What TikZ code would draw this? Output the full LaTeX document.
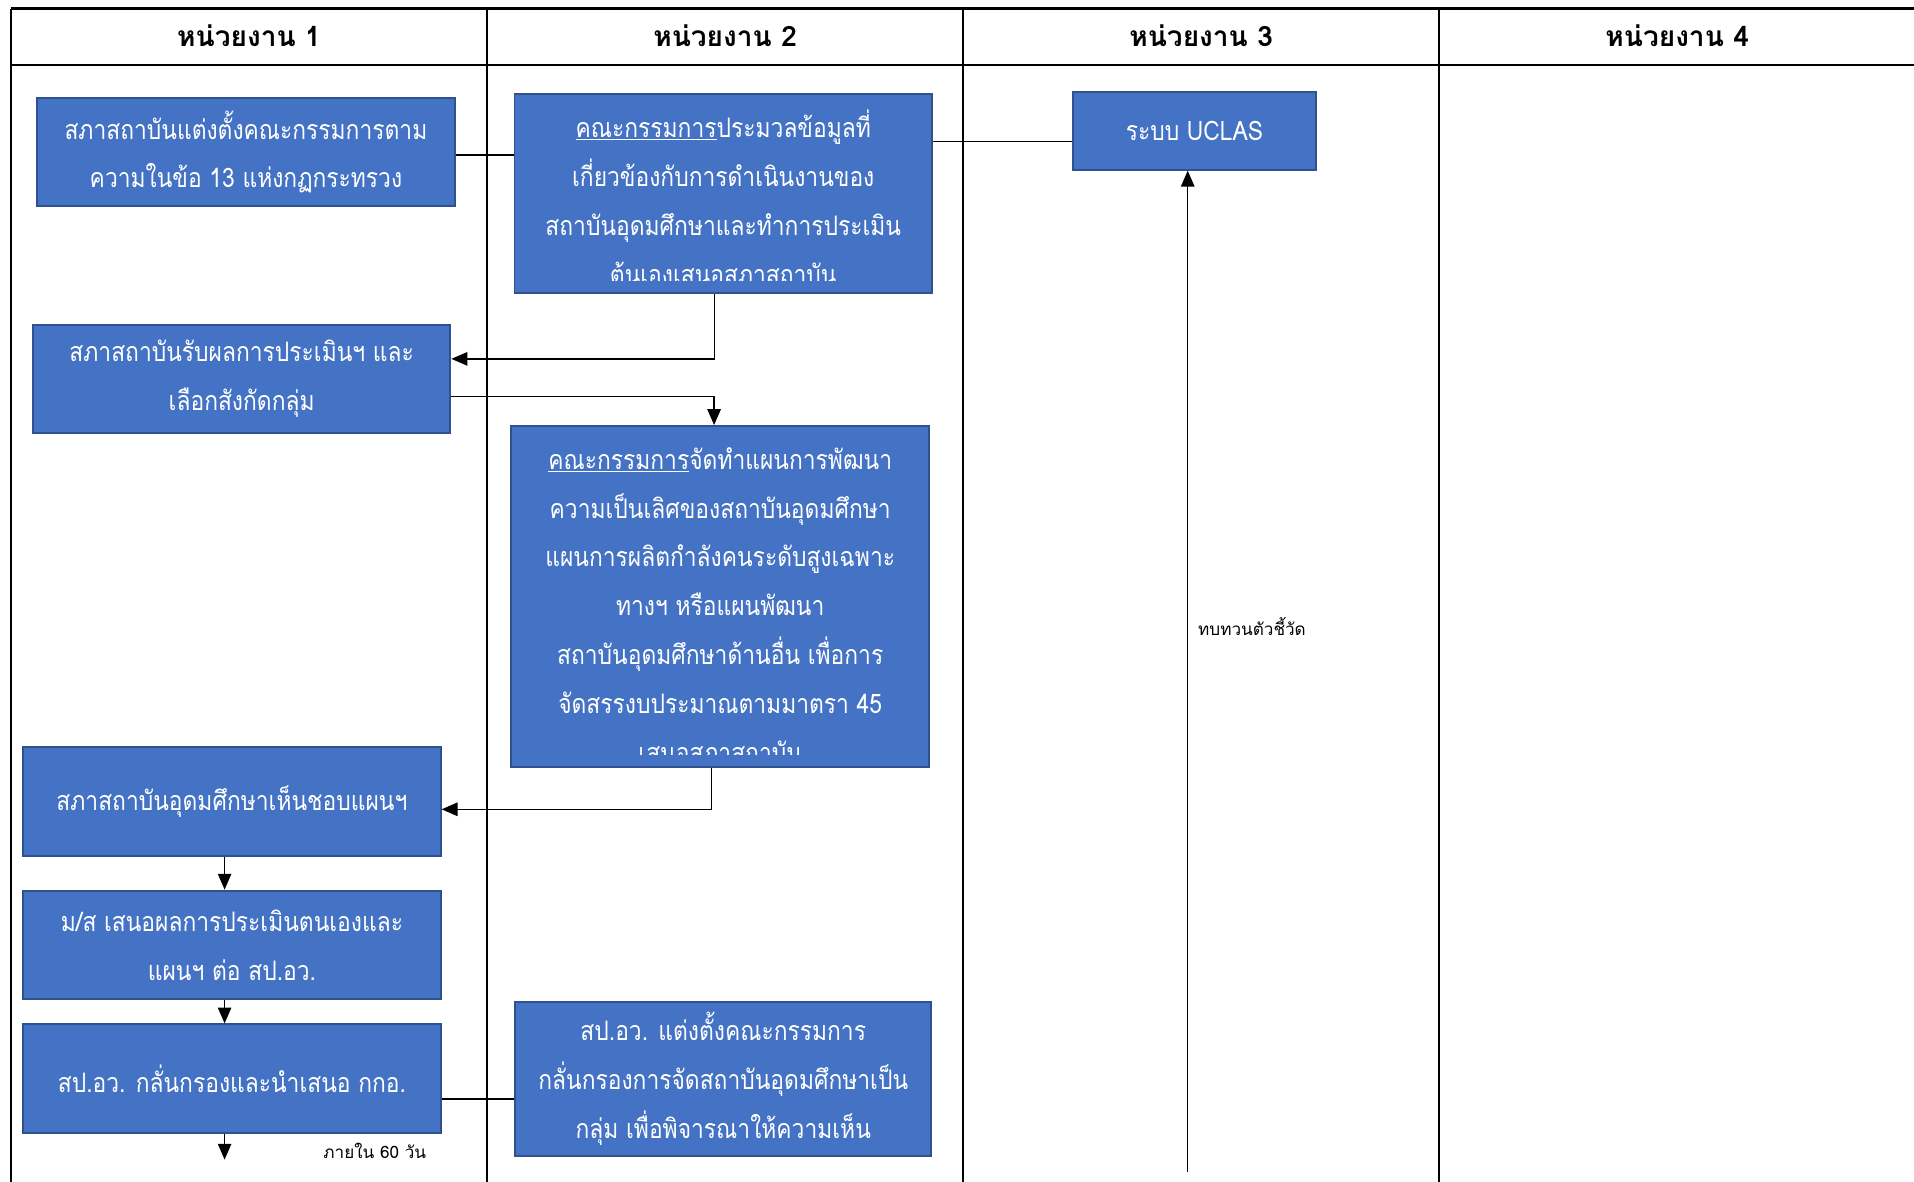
\documentclass[tikz,border=0pt]{standalone}
\usepackage{fontspec}
\newfontfamily\thaifont[Script=Thai]{Loma}
\newfontfamily\thaibox[Script=Thai, FakeStretch=0.85]{Loma}
\usetikzlibrary{arrows.meta,positioning}

\definecolor{boxblue}{HTML}{4472C4}
\definecolor{boxedge}{HTML}{2F528F}

\tikzset{
  boxtext/.style={text=white, align=center, inner sep=0pt, font=\thaibox\fontsize{22}{40}\selectfont},
  box/.style={boxtext, draw=boxedge, line width=1.6pt, fill=boxblue, minimum width=342pt, minimum height=89pt},
  head/.style={font=\thaifont\bfseries\fontsize{23}{26}\selectfont},
  rule/.style={line width=1.8pt},
  link/.style={line width=1.1pt},
  flow/.style={line width=1.1pt, -{Triangle[length=13pt,width=11pt]}},
  note/.style={font=\thaifont\fontsize{14}{16}\selectfont, inner sep=1pt},
}

\begin{document}
\begin{tikzpicture}[x=1pt, y=-1pt]
	\useasboundingbox (0,0) rectangle (1568,968);
	\clip (0,0) rectangle (1568,968);
	% table
	\draw [rule] (9,7) -- (1590,7) (9,53) -- (1590,53);
	\foreach \x in {9,399,789,1179}
		\draw [rule] (\x,7) -- (\x,990);
	\node [head] (h1) at (204,29) {หน่วยงาน 1};
	\node [head] (h2) at (594,29) {หน่วยงาน 2};
	\node [head] (h3) at (984,29) {หน่วยงาน 3};
	\node [head] (h4) at (1374,29) {หน่วยงาน 4};
	% boxes
	\node [box] (council) at (201.5,124.5) {สภาสถาบันแต่งตั้งคณะกรรมการตาม\\ความในข้อ 13 แห่งกฏกระทรวง};
	\node [box, minimum height=163pt, path picture={
		\clip ([yshift=10pt]path picture bounding box.south west) rectangle (path picture bounding box.north east);
		\node [boxtext] at ([yshift=-3pt]path picture bounding box.center) {\underline{คณะกรรมการ}ประมวลข้อมูลที่\\เกี่ยวข้องกับการดำเนินงานของ\\สถาบันอุดมศึกษาและทำการประเมิน\\ต้นเองเสนอสภาสถาบัน};
	}] (committee) at (592.5,158.5) {};
	\node [box, minimum width=199pt, minimum height=64pt] (uclas) at (978.5,107) {ระบบ UCLAS};
	\node [box] (receive) at (198,310.5) {สภาสถาบันรับผลการประเมินฯ และ\\เลือกสังกัดกลุ่ม};
	\node [box, minimum height=279pt, path picture={
		\clip ([yshift=10pt]path picture bounding box.south west) rectangle (path picture bounding box.north east);
		\node [boxtext] at ([yshift=-7pt]path picture bounding box.center) {\underline{คณะกรรมการ}จัดทำแผนการพัฒนา\\ความเป็นเลิศของสถาบันอุดมศึกษา\\แผนการผลิตกำลังคนระดับสูงเฉพาะ\\ทางฯ หรือแผนพัฒนา\\สถาบันอุดมศึกษาด้านอื่น เพื่อการ\\จัดสรรงบประมาณตามมาตรา 45\\เสนอสภาสถาบัน};
	}] (plan) at (590,488.5) {};
	\node [box] (approve) at (190,656.5) {สภาสถาบันอุดมศึกษาเห็นชอบแผนฯ};
	\node [box, below=27pt of approve] (propose) {ม/ส เสนอผลการประเมินตนเองและ\\แผนฯ ต่อ สป.อว.};
	\node [box, below=19pt of propose] (screen) {สป.อว. กลั่นกรองและนำเสนอ กกอ.};
	\node [box, minimum width=341pt, minimum height=126pt] (appoint) at (592.5,884) {สป.อว. แต่งตั้งคณะกรรมการ\\กลั่นกรองการจัดสถาบันอุดมศึกษาเป็น\\กลุ่ม เพื่อพิจารณาให้ความเห็น};
	% connectors
	\draw [link] ([yshift=-2.5pt]council.east) -- ([yshift=-2.5pt]council.east -| committee.west);
	\draw [link] ([yshift=-9pt]uclas.west) -- ([yshift=-9pt]uclas.west -| committee.east);
	\draw [flow] ([xshift=-7pt]committee.south) |- ([yshift=16.5pt]receive.east);
	\draw [flow] ([yshift=-14.5pt]receive.east) -| ([xshift=-5pt]plan.north);
	\draw [flow] ([xshift=-7pt]plan.south) |- ([yshift=-6.5pt]approve.east);
	\draw [flow] ([xshift=-6pt]approve.south) -- ([xshift=-6pt]propose.north);
	\draw [flow] ([xshift=-6pt]propose.south) -- ([xshift=-6pt]screen.north);
	\coordinate (out60) at (184,950);
	\draw [flow] (screen.south -| out60) -- (out60);
	\node [note] (within60) at (307,943) {ภายใน 60 วัน};
	\draw [link] ([yshift=-16.5pt]screen.east) -- ([yshift=-16.5pt]screen.east -| appoint.west);
	\coordinate (review) at (973,960);
	\draw [flow] (review) -- (review |- uclas.south) node [note, pos=0.545, right=7pt] (kpi) {ทบทวนตัวชี้วัด};
\end{tikzpicture}
\end{document}
